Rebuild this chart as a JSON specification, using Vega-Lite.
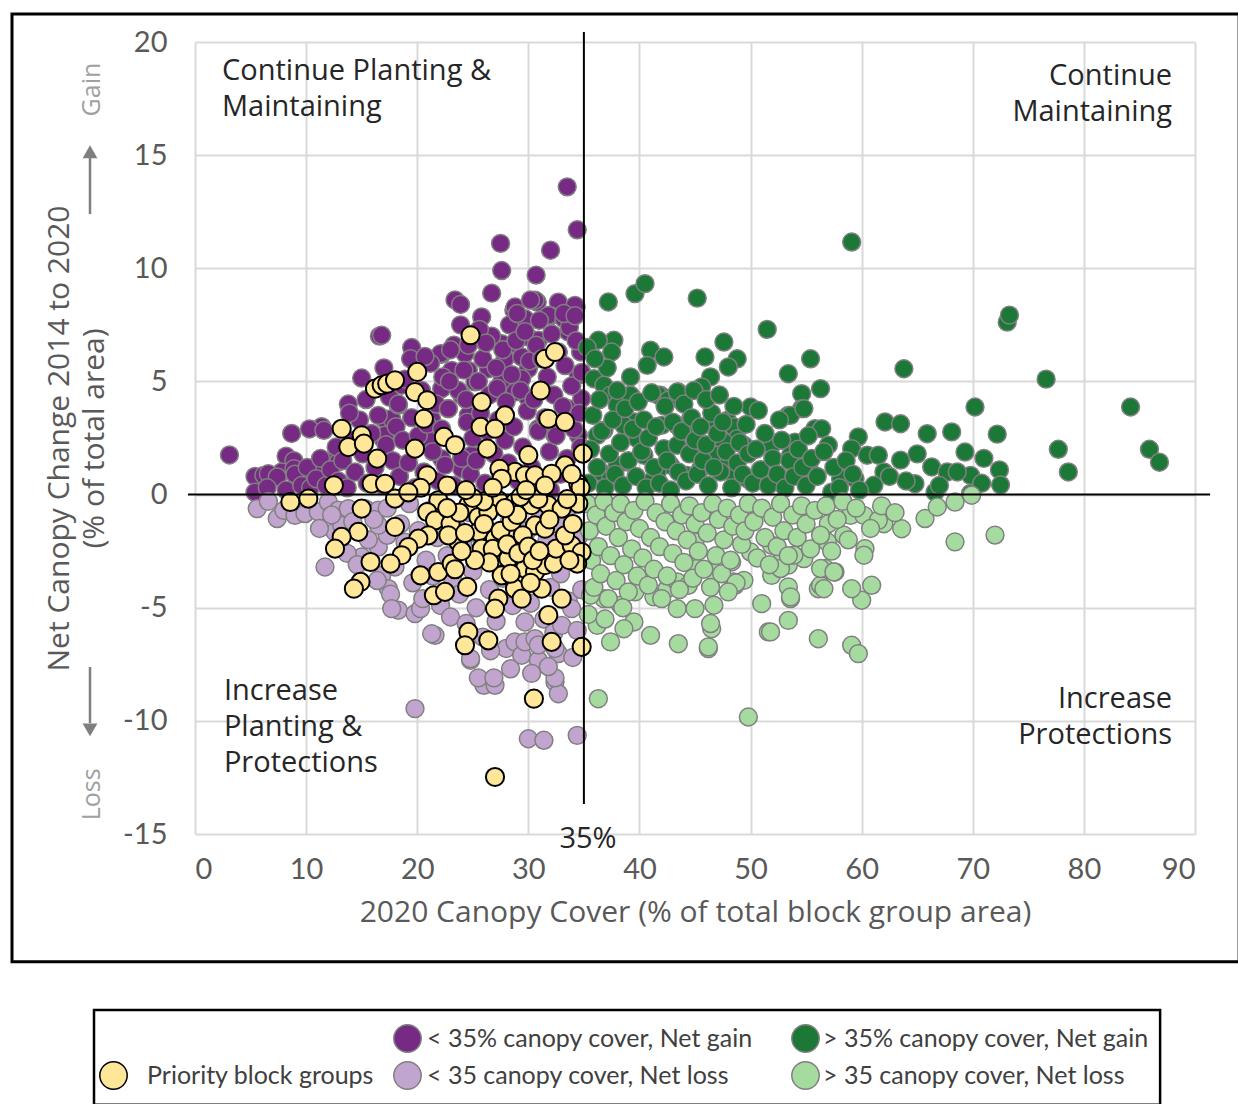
{
"$schema":"https://vega.github.io/schema/vega-lite/v6.json",
"width":1000,"height":792,
"padding":{"left":10,"top":12,"right":0,"bottom":0},
"autosize":{"type":"pad"},
"config":{"view":{"stroke":null},
"axisX":{"grid":true,"gridColor":"#d9d9d9","gridWidth":2,"ticks":false,"domain":false,"labelFont":"Lato","labelFontSize":29,"labelColor":"#595959","labelPadding":21,"titleFont":"Open Sans","titleFontSize":30,"titleColor":"#595959","titleFontWeight":"normal","titlePadding":13},
"axisY":{"grid":true,"gridColor":"#d9d9d9","gridWidth":2,"ticks":false,"domain":false,"labelFont":"Lato","labelFontSize":29,"labelColor":"#595959","labelPadding":28,"titleFont":"Open Sans","titleFontSize":30,"titleColor":"#595959","titleFontWeight":"normal","titlePadding":13,"titleLineHeight":35},
"legend":{"labelLimit":0}},
"datasets":{
"pg":[{"x":3.1,"y":1.75},{"x":33.5,"y":13.6},{"x":34.4,"y":11.7},{"x":32.0,"y":10.8},{"x":27.5,"y":11.1},{"x":27.6,"y":9.9},{"x":30.7,"y":9.7},{"x":26.7,"y":8.9},{"x":23.4,"y":8.6},{"x":23.9,"y":8.4},{"x":32.7,"y":8.5},{"x":34.3,"y":8.3},{"x":25.8,"y":7.85},{"x":28.7,"y":8.15},{"x":30.8,"y":8.5},{"x":32.0,"y":7.9},{"x":16.6,"y":7.0},{"x":19.5,"y":6.5},{"x":22.2,"y":6.2},{"x":15.0,"y":5.15},{"x":13.8,"y":4.0},{"x":11.4,"y":3.0},{"x":10.3,"y":2.9},{"x":8.7,"y":2.7},{"x":8.2,"y":1.7},{"x":5.4,"y":0.8},{"x":5.4,"y":0.1},{"x":6.2,"y":0.85},{"x":6.9,"y":0.7},{"x":7.8,"y":1.0},
{"x":11.6,"y":2.84},{"x":8.9,"y":1.5},{"x":6.6,"y":0.92},{"x":7.4,"y":0.78},{"x":8.9,"y":1.14},{"x":9.6,"y":0.85},{"x":11.1,"y":1.14},{"x":12.0,"y":1.44},{"x":12.9,"y":1.44},{"x":17.0,"y":3.35},{"x":16.9,"y":2.47},{"x":13.5,"y":2.03},
{"x":28.8,"y":8.29},{"x":30.6,"y":8.59},{"x":31.8,"y":7.92},{"x":29.7,"y":7.77},{"x":34.2,"y":8.36},{"x":33.2,"y":7.77},{"x":16.8,"y":7.04},{"x":22.1,"y":6.23},{"x":23.3,"y":6.6},{"x":24.3,"y":6.23},{"x":26.1,"y":6.74},{"x":27.6,"y":6.67},{"x":28.8,"y":6.67},{"x":30.0,"y":6.96},{"x":30.9,"y":6.82},{"x":23.1,"y":5.49},{"x":24.6,"y":5.49},{"x":25.2,"y":4.98},{"x":26.4,"y":5.56},{"x":27.9,"y":6.0},{"x":29.4,"y":6.08},{"x":30.0,"y":5.56},{"x":33.6,"y":7.19},{"x":34.7,"y":6.3},{"x":34.5,"y":5.27},{"x":22.2,"y":4.68},{"x":24.0,"y":4.39},{"x":22.8,"y":3.8},{"x":24.6,"y":3.5},{"x":27.6,"y":4.98},{"x":28.8,"y":4.53},{"x":29.4,"y":5.12},{"x":30.0,"y":4.24},{"x":17.4,"y":4.98},{"x":18.6,"y":4.83},{"x":17.7,"y":3.35},{"x":18.3,"y":3.95},{"x":17.1,"y":2.62},{"x":21.3,"y":3.35},{"x":21.0,"y":2.47},{"x":22.2,"y":1.59},{"x":24.0,"y":1.14},{"x":24.9,"y":1.74},{"x":30.9,"y":2.91},{"x":32.4,"y":2.62},{"x":34.5,"y":2.62},{"x":33.6,"y":3.8},{"x":34.8,"y":4.24},
{"x":6.5,"y":0.3},{"x":8.2,"y":0.2},{"x":9.0,"y":0.9},{"x":9.6,"y":0.4},{"x":10.1,"y":1.2},{"x":10.4,"y":0.3},{"x":10.9,"y":0.7},{"x":11.3,"y":1.6},{"x":11.8,"y":0.4},{"x":12.2,"y":1.1},{"x":12.7,"y":2.1},{"x":12.9,"y":0.6},{"x":13.3,"y":1.5},{"x":13.7,"y":0.3},{"x":14.1,"y":2.4},{"x":14.4,"y":1.0},{"x":14.8,"y":3.3},{"x":15.1,"y":1.8},{"x":15.5,"y":0.5},{"x":15.9,"y":2.7},{"x":13.9,"y":3.6},{"x":15.4,"y":4.2},{"x":16.2,"y":1.2},{"x":16.5,"y":3.5},{"x":16.9,"y":0.4},{"x":17.2,"y":2.2},{"x":17.5,"y":4.3},{"x":17.8,"y":1.5},{"x":18.1,"y":3.0},{"x":18.4,"y":0.8},{"x":18.7,"y":2.4},{"x":18.9,"y":5.1},{"x":17.0,"y":5.6},{"x":18.3,"y":4.0},{"x":19.2,"y":1.4},{"x":19.5,"y":3.4},{"x":19.8,"y":0.3},{"x":20.1,"y":2.6},{"x":20.4,"y":4.6},{"x":20.6,"y":1.0},{"x":20.9,"y":3.1},{"x":21.2,"y":5.8},{"x":21.4,"y":1.9},{"x":21.7,"y":4.0},{"x":21.9,"y":0.6},{"x":19.4,"y":6.0},{"x":22.3,"y":5.2},{"x":20.7,"y":6.1},{"x":22.2,"y":2.9},{"x":22.5,"y":1.3},{"x":22.8,"y":3.8},{"x":23.0,"y":6.4},{"x":23.3,"y":0.4},{"x":23.5,"y":2.2},{"x":23.7,"y":4.6},{"x":24.0,"y":1.6},{"x":24.2,"y":5.5},{"x":24.5,"y":3.2},{"x":24.8,"y":0.9},{"x":24.6,"y":6.6},{"x":22.9,"y":5.0},{"x":23.9,"y":7.5},{"x":24.4,"y":4.2},{"x":25.0,"y":2.5},{"x":25.3,"y":1.5},{"x":25.5,"y":5.0},{"x":25.7,"y":3.6},{"x":25.9,"y":6.0},{"x":26.1,"y":0.5},{"x":26.3,"y":2.8},{"x":26.5,"y":4.4},{"x":26.7,"y":7.0},{"x":26.9,"y":1.8},{"x":27.1,"y":5.6},{"x":27.3,"y":3.3},{"x":27.5,"y":0.9},{"x":27.7,"y":6.4},{"x":27.9,"y":2.4},{"x":25.6,"y":7.3},{"x":26.2,"y":6.7},{"x":27.2,"y":4.7},{"x":28.0,"y":4.1},{"x":28.3,"y":7.5},{"x":28.2,"y":1.4},{"x":28.5,"y":5.3},{"x":28.7,"y":3.0},{"x":28.9,"y":6.8},{"x":29.1,"y":0.6},{"x":29.3,"y":4.6},{"x":29.5,"y":2.1},{"x":29.7,"y":7.2},{"x":29.9,"y":3.7},{"x":30.1,"y":5.9},{"x":30.3,"y":1.2},{"x":30.5,"y":4.2},{"x":30.7,"y":6.6},{"x":30.9,"y":2.8},{"x":31.0,"y":7.7},{"x":29.0,"y":8.0},{"x":30.2,"y":8.6},{"x":31.3,"y":0.5},{"x":31.5,"y":3.4},{"x":31.7,"y":5.2},{"x":31.9,"y":1.9},{"x":32.1,"y":7.1},{"x":32.3,"y":4.4},{"x":32.5,"y":2.6},{"x":32.7,"y":6.3},{"x":32.9,"y":0.9},{"x":33.1,"y":3.9},{"x":33.3,"y":5.7},{"x":33.5,"y":1.6},{"x":33.7,"y":7.4},{"x":33.9,"y":4.8},{"x":34.1,"y":2.9},{"x":34.3,"y":6.8},{"x":34.5,"y":0.4},{"x":34.6,"y":3.6},{"x":34.8,"y":5.4},{"x":34.7,"y":2.1},{"x":33.2,"y":8.0},{"x":34.2,"y":7.9},{"x":31.2,"y":6.0},{"x":32.0,"y":0.2}],
"gg":[{"x":59.1,"y":11.16},{"x":37.2,"y":8.51},{"x":39.6,"y":8.88},{"x":40.5,"y":9.32},{"x":45.2,"y":8.68},{"x":51.5,"y":7.3},{"x":37.7,"y":6.82},{"x":36.3,"y":6.82},{"x":37.5,"y":6.3},{"x":41.0,"y":6.38},{"x":42.2,"y":6.08},{"x":40.7,"y":5.71},{"x":47.6,"y":6.74},{"x":45.9,"y":6.08},{"x":48.8,"y":6.0},{"x":48.0,"y":5.64},{"x":46.4,"y":5.2},{"x":45.6,"y":4.76},{"x":55.4,"y":6.0},{"x":53.4,"y":5.34},{"x":63.8,"y":5.56},{"x":56.3,"y":4.68},{"x":54.6,"y":4.46},{"x":54.6,"y":3.8},{"x":53.4,"y":3.5},{"x":39.2,"y":4.39},{"x":43.5,"y":4.53},{"x":42.6,"y":4.24},{"x":41.9,"y":4.39},{"x":50.0,"y":3.87},{"x":50.7,"y":3.72},{"x":62.1,"y":3.21},{"x":63.5,"y":3.13},{"x":65.9,"y":2.69},{"x":68.1,"y":2.77},{"x":70.2,"y":3.87},{"x":69.3,"y":1.88},{"x":59.7,"y":2.55},{"x":59.1,"y":2.03},{"x":51.9,"y":2.18},{"x":54.0,"y":2.32},{"x":55.8,"y":2.91},{"x":56.4,"y":2.91},{"x":57.0,"y":2.18},{"x":60.5,"y":1.74},{"x":61.5,"y":1.74},{"x":63.5,"y":1.52},{"x":66.3,"y":1.22},{"x":67.7,"y":1.0},{"x":69.8,"y":0.85},{"x":64.8,"y":0.48},{"x":62.0,"y":1.0},{"x":61.1,"y":0.41},{"x":59.4,"y":0.7},{"x":58.1,"y":0.7},{"x":57.3,"y":0.11},{"x":66.6,"y":0.11},{"x":73.1,"y":7.62},{"x":73.3,"y":7.93},{"x":76.6,"y":5.1},{"x":84.2,"y":3.87},{"x":77.7,"y":2.0},{"x":78.6,"y":1.0},{"x":85.9,"y":2.0},{"x":86.8,"y":1.43},{"x":72.2,"y":2.67},{"x":72.4,"y":1.09},{"x":72.5,"y":0.43},{"x":69.8,"y":0.05},{"x":68.6,"y":1.0},
{"x":35.9,"y":5.12},{"x":36.8,"y":4.83},{"x":37.4,"y":4.39},{"x":38.0,"y":3.95},{"x":39.2,"y":4.39},{"x":41.7,"y":4.39},{"x":42.6,"y":4.17},{"x":43.4,"y":4.53},{"x":53.6,"y":3.5},{"x":54.8,"y":3.8},{"x":39.6,"y":3.21},{"x":38.6,"y":3.06},{"x":36.8,"y":2.84},{"x":36.2,"y":2.62},{"x":42.0,"y":3.06},{"x":43.4,"y":3.06},{"x":44.6,"y":3.35},{"x":44.9,"y":2.99},{"x":46.7,"y":3.06},{"x":47.9,"y":3.28},{"x":48.5,"y":2.99},{"x":49.4,"y":2.18},{"x":48.8,"y":2.47},{"x":47.6,"y":2.32},{"x":53.6,"y":1.74},{"x":54.8,"y":1.44},{"x":55.4,"y":1.0},{"x":39.8,"y":2.47},{"x":40.4,"y":1.74},{"x":38.9,"y":1.44},{"x":38.0,"y":1.29},{"x":36.5,"y":1.0},{"x":37.4,"y":0.7},{"x":42.2,"y":2.03},{"x":43.4,"y":2.18},{"x":44.6,"y":1.88},{"x":45.8,"y":2.03},{"x":47.0,"y":1.74},{"x":47.9,"y":1.29},{"x":49.7,"y":0.7},{"x":48.5,"y":0.85},{"x":47.3,"y":1.0},{"x":45.5,"y":1.14},{"x":44.3,"y":0.85},{"x":42.8,"y":1.29},{"x":41.6,"y":1.0},{"x":41.0,"y":0.56},
{"x":35.4,"y":0.5},{"x":35.6,"y":2.0},{"x":35.8,"y":3.5},{"x":36.2,"y":1.2},{"x":36.4,"y":4.2},{"x":36.6,"y":2.8},{"x":36.9,"y":0.3},{"x":37.1,"y":5.6},{"x":37.3,"y":1.8},{"x":37.6,"y":3.3},{"x":37.8,"y":0.9},{"x":38.0,"y":4.6},{"x":35.3,"y":6.5},{"x":36.0,"y":6.0},{"x":38.3,"y":2.3},{"x":38.5,"y":0.4},{"x":38.7,"y":3.8},{"x":39.0,"y":1.5},{"x":39.2,"y":5.2},{"x":39.4,"y":2.9},{"x":39.7,"y":0.8},{"x":39.9,"y":4.1},{"x":40.2,"y":1.9},{"x":40.4,"y":3.3},{"x":40.6,"y":0.3},{"x":40.8,"y":2.5},{"x":41.1,"y":4.5},{"x":41.3,"y":1.2},{"x":41.5,"y":3.0},{"x":41.8,"y":0.5},{"x":42.3,"y":3.9},{"x":42.5,"y":1.5},{"x":42.8,"y":0.2},{"x":43.0,"y":3.2},{"x":43.5,"y":1.0},{"x":43.8,"y":2.8},{"x":44.0,"y":4.0},{"x":44.2,"y":0.6},{"x":44.5,"y":1.8},{"x":44.7,"y":3.4},{"x":45.0,"y":2.4},{"x":45.2,"y":0.9},{"x":45.5,"y":3.0},{"x":45.7,"y":1.5},{"x":46.0,"y":2.2},{"x":46.2,"y":0.4},{"x":46.5,"y":3.6},{"x":46.7,"y":1.2},{"x":47.0,"y":2.7},{"x":44.9,"y":4.6},{"x":46.0,"y":4.2},{"x":47.5,"y":3.2},{"x":47.8,"y":1.9},{"x":48.3,"y":0.3},{"x":48.5,"y":3.9},{"x":48.8,"y":1.4},{"x":49.0,"y":2.3},{"x":49.3,"y":0.9},{"x":49.6,"y":3.1},{"x":49.8,"y":1.8},{"x":47.2,"y":4.4},{"x":50.2,"y":0.5},{"x":50.5,"y":2.0},{"x":50.9,"y":1.1},{"x":51.3,"y":2.7},{"x":51.6,"y":0.4},{"x":52.0,"y":1.6},{"x":52.4,"y":0.9},{"x":52.8,"y":2.4},{"x":53.1,"y":0.3},{"x":53.5,"y":1.5},{"x":53.9,"y":0.8},{"x":54.3,"y":2.0},{"x":54.7,"y":1.2},{"x":55.0,"y":0.4},{"x":52.6,"y":3.3},{"x":55.5,"y":1.6},{"x":56.0,"y":0.8},{"x":56.6,"y":1.9},{"x":57.5,"y":1.2},{"x":58.0,"y":0.3},{"x":58.6,"y":1.5},{"x":59.2,"y":0.9},{"x":59.8,"y":0.2},{"x":55.2,"y":2.6},{"x":62.5,"y":0.8},{"x":64.0,"y":0.6},{"x":65.0,"y":1.8},{"x":67.0,"y":0.4},{"x":70.8,"y":0.5},{"x":71.0,"y":1.6}],
"pl":[{"x":5.6,"y":-0.62},{"x":7.4,"y":-1.06},{"x":6.6,"y":-0.3},{"x":8.0,"y":-0.7},{"x":9.0,"y":-0.92},{"x":9.9,"y":-0.84},{"x":11.1,"y":-0.77},{"x":12.0,"y":-0.33},{"x":12.9,"y":-0.69},{"x":13.8,"y":-0.62},{"x":15.3,"y":-0.62},{"x":16.5,"y":-0.69},{"x":11.7,"y":-3.2},{"x":12.6,"y":-1.65},{"x":13.2,"y":-1.36},{"x":15.0,"y":-2.76},{"x":16.5,"y":-2.32},{"x":17.3,"y":-1.8},{"x":16.5,"y":-1.36},{"x":16.8,"y":-3.57},{"x":17.4,"y":-4.16},{"x":11.2,"y":-1.5},{"x":12.3,"y":-0.9},{"x":13.7,"y":-2.6},{"x":14.2,"y":-1.2},{"x":14.6,"y":-3.1},{"x":15.6,"y":-2.0},{"x":16.1,"y":-1.1},{"x":16.4,"y":-3.8},{"x":17.3,"y":-0.6},{"x":17.6,"y":-4.4},{"x":18.0,"y":-3.2},{"x":18.3,"y":-5.11},{"x":18.5,"y":-1.3},{"x":18.9,"y":-2.1},{"x":19.3,"y":-0.4},{"x":19.6,"y":-3.9},{"x":19.8,"y":-5.26},{"x":20.3,"y":-5.04},{"x":20.1,"y":-1.6},{"x":20.5,"y":-4.6},{"x":20.8,"y":-2.9},{"x":21.1,"y":-0.7},{"x":21.6,"y":-6.22},{"x":21.4,"y":-3.6},{"x":21.8,"y":-1.9},{"x":22.1,"y":-4.9},{"x":22.4,"y":-0.5},{"x":22.7,"y":-2.7},{"x":23.0,"y":-5.41},{"x":23.2,"y":-3.8},{"x":23.5,"y":-1.4},{"x":23.8,"y":-4.4},{"x":24.1,"y":-2.2},{"x":24.4,"y":-5.7},{"x":24.8,"y":-7.32},{"x":24.7,"y":-0.8},{"x":25.0,"y":-3.4},{"x":25.3,"y":-5.0},{"x":25.6,"y":-1.8},{"x":25.9,"y":-6.3},{"x":26.0,"y":-8.43},{"x":27.0,"y":-8.43},{"x":26.2,"y":-2.9},{"x":26.5,"y":-4.2},{"x":26.8,"y":-0.4},{"x":27.1,"y":-5.6},{"x":27.4,"y":-2.3},{"x":27.7,"y":-3.7},{"x":28.0,"y":-6.8},{"x":28.3,"y":-1.2},{"x":28.6,"y":-4.9},{"x":28.8,"y":-6.51},{"x":29.0,"y":-2.7},{"x":29.4,"y":-7.1},{"x":29.3,"y":-3.9},{"x":29.7,"y":-6.51},{"x":29.7,"y":-5.63},{"x":29.9,"y":-1.6},{"x":30.0,"y":-10.79},{"x":30.2,"y":-4.8},{"x":30.6,"y":-6.37},{"x":30.5,"y":-2.4},{"x":30.9,"y":-7.32},{"x":30.8,"y":-3.3},{"x":31.1,"y":-0.8},{"x":31.4,"y":-10.86},{"x":31.4,"y":-5.5},{"x":31.7,"y":-2.0},{"x":32.0,"y":-4.1},{"x":32.4,"y":-8.28},{"x":32.3,"y":-6.1},{"x":32.7,"y":-8.8},{"x":32.7,"y":-7.03},{"x":32.6,"y":-1.3},{"x":32.9,"y":-3.5},{"x":33.0,"y":-5.78},{"x":33.3,"y":-2.6},{"x":33.6,"y":-4.7},{"x":33.9,"y":-5.04},{"x":33.8,"y":-0.5},{"x":34.1,"y":-3.0},{"x":34.4,"y":-10.64},{"x":34.4,"y":-6.0},{"x":34.6,"y":-1.8},{"x":34.8,"y":-4.2},{"x":19.8,"y":-9.46},{"x":17.7,"y":-5.04},{"x":21.3,"y":-6.15},{"x":24.8,"y":-7.25},{"x":30.9,"y":-6.65},{"x":32.4,"y":-6.8},{"x":25.5,"y":-8.1},{"x":26.9,"y":-8.1},{"x":32.4,"y":-8.1},{"x":31.8,"y":-7.6},{"x":30.3,"y":-7.9},{"x":26.6,"y":-6.9},{"x":28.4,"y":-7.7},{"x":34.0,"y":-7.2}],
"gl":[{"x":36.3,"y":-9.02},{"x":49.8,"y":-9.83},{"x":43.5,"y":-6.59},{"x":46.2,"y":-6.81},{"x":46.5,"y":-5.93},{"x":46.4,"y":-5.7},{"x":51.6,"y":-6.07},{"x":53.4,"y":-5.56},{"x":56.1,"y":-6.37},{"x":59.1,"y":-6.66},{"x":59.7,"y":-7.03},{"x":51.0,"y":-4.82},{"x":53.6,"y":-4.6},{"x":53.4,"y":-4.08},{"x":56.1,"y":-4.16},{"x":56.3,"y":-4.01},{"x":60.0,"y":-4.67},{"x":60.9,"y":-4.01},{"x":59.1,"y":-4.16},{"x":43.4,"y":-5.04},{"x":45.0,"y":-5.04},{"x":46.7,"y":-4.89},{"x":41.0,"y":-6.22},{"x":39.5,"y":-5.63},{"x":38.6,"y":-5.93},{"x":37.4,"y":-6.51},{"x":36.2,"y":-5.78},{"x":68.4,"y":-2.09},{"x":65.7,"y":-1.06},{"x":66.8,"y":-0.55},{"x":68.4,"y":-0.33},{"x":63.6,"y":-1.51},{"x":62.0,"y":-1.29},{"x":60.3,"y":-2.39},{"x":60.2,"y":-2.68},{"x":57.6,"y":-3.42},{"x":56.7,"y":-3.27},{"x":58.4,"y":-1.8},{"x":56.9,"y":-2.09},{"x":57.0,"y":-1.29},{"x":59.0,"y":-0.92},{"x":60.2,"y":-0.92},{"x":61.5,"y":-1.14},{"x":50.0,"y":-2.54},{"x":49.4,"y":-3.79},{"x":48.6,"y":-4.01},{"x":54.8,"y":-2.83},{"x":53.4,"y":-3.12},{"x":51.9,"y":-3.57},{"x":45.0,"y":-2.09},{"x":69.9,"y":-0.03},{"x":72.0,"y":-1.79},{"x":46.2,"y":-6.73},{"x":51.8,"y":-6.07},{"x":53.6,"y":-4.52},{"x":38.3,"y":-4.89},{"x":36.8,"y":-4.6},{"x":35.6,"y":-4.45},{"x":39.6,"y":-4.3},{"x":41.3,"y":-4.52},{"x":42.5,"y":-4.16},{"x":43.4,"y":-3.86},{"x":44.4,"y":-4.01},{"x":45.2,"y":-3.27},{"x":46.7,"y":-3.42},{"x":48.5,"y":-3.86},{"x":48.3,"y":-2.98},{"x":51.9,"y":-2.24},{"x":52.9,"y":-2.68},{"x":52.7,"y":-3.27},{"x":53.9,"y":-2.68},{"x":56.3,"y":-3.27},{"x":56.6,"y":-4.16},{"x":57.5,"y":-3.42},
{"x":35.3,"y":-0.4},{"x":35.5,"y":-1.6},{"x":35.7,"y":-2.9},{"x":35.9,"y":-4.1},{"x":36.1,"y":-0.9},{"x":36.3,"y":-2.3},{"x":36.5,"y":-3.5},{"x":36.8,"y":-0.3},{"x":37.0,"y":-1.4},{"x":37.2,"y":-4.6},{"x":37.4,"y":-2.7},{"x":37.7,"y":-0.8},{"x":37.9,"y":-3.8},{"x":35.4,"y":-5.3},{"x":36.9,"y":-5.5},{"x":38.1,"y":-1.9},{"x":38.3,"y":-0.4},{"x":38.6,"y":-3.1},{"x":38.8,"y":-1.2},{"x":39.0,"y":-4.3},{"x":39.3,"y":-2.4},{"x":39.5,"y":-0.7},{"x":39.8,"y":-3.6},{"x":40.0,"y":-1.5},{"x":40.3,"y":-2.8},{"x":40.5,"y":-0.3},{"x":40.8,"y":-4.0},{"x":41.0,"y":-1.9},{"x":38.5,"y":-5.0},{"x":41.3,"y":-3.3},{"x":41.5,"y":-0.8},{"x":41.8,"y":-2.3},{"x":42.0,"y":-4.6},{"x":42.3,"y":-1.2},{"x":42.5,"y":-3.6},{"x":42.8,"y":-0.4},{"x":43.0,"y":-2.6},{"x":43.3,"y":-1.6},{"x":43.6,"y":-4.2},{"x":43.8,"y":-0.9},{"x":44.0,"y":-3.0},{"x":44.3,"y":-2.0},{"x":44.5,"y":-0.5},{"x":44.8,"y":-3.7},{"x":45.0,"y":-1.3},{"x":45.3,"y":-2.5},{"x":45.6,"y":-0.8},{"x":45.8,"y":-3.3},{"x":46.1,"y":-1.7},{"x":46.4,"y":-4.1},{"x":46.6,"y":-0.4},{"x":46.9,"y":-2.7},{"x":47.1,"y":-1.1},{"x":47.4,"y":-3.5},{"x":47.6,"y":-2.0},{"x":47.9,"y":-0.6},{"x":48.2,"y":-2.9},{"x":48.4,"y":-1.4},{"x":48.7,"y":-3.9},{"x":49.0,"y":-0.9},{"x":49.2,"y":-2.2},{"x":49.5,"y":-1.6},{"x":49.8,"y":-0.4},{"x":48.0,"y":-4.3},{"x":50.3,"y":-1.2},{"x":50.6,"y":-2.8},{"x":51.0,"y":-0.6},{"x":51.3,"y":-1.9},{"x":51.7,"y":-3.1},{"x":52.0,"y":-1.0},{"x":52.4,"y":-2.3},{"x":52.7,"y":-0.4},{"x":53.0,"y":-1.6},{"x":53.4,"y":-2.7},{"x":53.8,"y":-0.9},{"x":54.2,"y":-1.9},{"x":54.6,"y":-0.5},{"x":55.0,"y":-1.3},{"x":55.4,"y":-2.4},{"x":55.8,"y":-0.7},{"x":56.3,"y":-1.8},{"x":56.8,"y":-0.5},{"x":57.3,"y":-2.5},{"x":57.8,"y":-1.1},{"x":58.3,"y":-0.3},{"x":58.8,"y":-2.0},{"x":59.5,"y":-0.6},{"x":60.8,"y":-1.5},{"x":61.8,"y":-0.5},{"x":63.0,"y":-0.8}],
"pr":[{"x":16.2,"y":4.68},{"x":16.8,"y":4.83},{"x":17.3,"y":4.9},{"x":18.0,"y":5.05},{"x":20.0,"y":5.42},{"x":19.8,"y":4.53},{"x":20.9,"y":4.17},{"x":20.6,"y":3.35},{"x":24.8,"y":7.04},{"x":31.5,"y":6.0},{"x":32.4,"y":6.3},{"x":31.1,"y":4.6},{"x":25.8,"y":4.09},{"x":27.9,"y":3.5},{"x":25.7,"y":2.99},{"x":27.0,"y":2.91},{"x":31.8,"y":3.35},{"x":33.3,"y":3.21},{"x":22.4,"y":2.55},{"x":23.4,"y":2.18},{"x":19.8,"y":2.03},{"x":20.9,"y":0.85},{"x":26.3,"y":2.03},{"x":30.0,"y":1.74},{"x":33.3,"y":1.29},{"x":34.9,"y":1.81},{"x":13.2,"y":2.91},{"x":15.0,"y":2.62},{"x":13.8,"y":2.1},{"x":15.2,"y":2.25},{"x":16.4,"y":1.59},{"x":12.5,"y":0.41},{"x":15.9,"y":0.48},{"x":17.1,"y":0.48},{"x":28.8,"y":1.0},{"x":29.7,"y":0.85},{"x":30.6,"y":0.85},{"x":32.1,"y":0.92},{"x":27.4,"y":1.14},{"x":27.6,"y":0.7},{"x":34.5,"y":0.48},{"x":34.7,"y":0.3},
{"x":8.58,"y":-0.33},{"x":10.2,"y":-0.18},{"x":15.0,"y":-0.62},{"x":18.0,"y":-0.18},{"x":21.9,"y":-0.25},{"x":20.9,"y":-0.77},{"x":21.6,"y":-1.14},{"x":23.0,"y":-1.29},{"x":24.6,"y":-0.47},{"x":25.5,"y":-0.99},{"x":27.3,"y":-0.25},{"x":26.4,"y":-0.77},{"x":28.8,"y":-0.33},{"x":30.3,"y":-0.47},{"x":31.8,"y":-0.47},{"x":33.0,"y":-0.62},{"x":30.6,"y":-1.36},{"x":31.5,"y":-1.51},{"x":28.8,"y":-1.8},{"x":27.0,"y":-1.95},{"x":25.5,"y":-1.65},{"x":23.7,"y":-2.09},{"x":22.8,"y":-1.8},{"x":21.0,"y":-1.8},{"x":20.1,"y":-1.95},{"x":19.2,"y":-2.32},{"x":18.6,"y":-2.68},{"x":18.0,"y":-1.43},{"x":14.7,"y":-1.65},{"x":13.2,"y":-1.87},{"x":12.6,"y":-2.39},{"x":15.8,"y":-2.98},{"x":17.6,"y":-3.05},{"x":14.9,"y":-3.86},{"x":14.3,"y":-4.16},{"x":20.3,"y":-3.57},{"x":21.5,"y":-4.45},{"x":22.5,"y":-4.3},{"x":24.5,"y":-4.08},{"x":21.9,"y":-3.42},{"x":23.1,"y":-3.05},{"x":25.8,"y":-2.39},{"x":27.0,"y":-2.83},{"x":28.2,"y":-2.83},{"x":27.6,"y":-3.57},{"x":28.8,"y":-3.86},{"x":29.7,"y":-3.27},{"x":30.6,"y":-3.42},{"x":31.5,"y":-3.12},{"x":32.3,"y":-3.05},{"x":32.5,"y":-2.39},{"x":33.9,"y":-2.24},{"x":34.8,"y":-2.54},{"x":33.3,"y":-1.8},{"x":34.4,"y":-3.05},{"x":28.8,"y":-4.16},{"x":31.2,"y":-4.16},{"x":33.0,"y":-4.6},{"x":27.3,"y":-4.6},{"x":27.0,"y":-5.04},{"x":29.4,"y":-4.6},{"x":31.8,"y":-5.33},{"x":24.6,"y":-6.07},{"x":24.3,"y":-6.66},{"x":26.4,"y":-6.44},{"x":32.1,"y":-6.51},{"x":34.8,"y":-6.73},{"x":30.5,"y":-9.02},{"x":27.0,"y":-12.48},
{"x":26.0,"y":-1.3},{"x":26.8,"y":-2.4},{"x":27.5,"y":-1.6},{"x":28.1,"y":-2.2},{"x":28.5,"y":-1.2},{"x":29.1,"y":-2.6},{"x":29.5,"y":-1.8},{"x":30.0,"y":-2.3},{"x":30.4,"y":-2.9},{"x":26.5,"y":-3.0},{"x":25.2,"y":-2.9},{"x":24.3,"y":-1.7},{"x":24.0,"y":-2.5},{"x":23.4,"y":-3.3},{"x":29.0,"y":-0.9},{"x":31.0,"y":-2.5},{"x":31.9,"y":-1.1},{"x":33.7,"y":-2.9},{"x":34.0,"y":-1.3},{"x":34.5,"y":-0.4},{"x":33.5,"y":-0.2},{"x":27.9,"y":-0.6},{"x":29.3,"y":-0.1},{"x":26.0,"y":-0.3},{"x":25.0,"y":-0.15},{"x":23.8,"y":-0.8},{"x":22.7,"y":-0.6},{"x":28.4,"y":-3.5},{"x":30.2,"y":-3.9},{"x":30.9,"y":-0.2},{"x":29.8,"y":0.2},{"x":31.5,"y":0.4},{"x":33.9,"y":0.9},{"x":26.8,"y":0.3},{"x":24.4,"y":0.2},{"x":22.7,"y":0.4},{"x":20.3,"y":0.3},{"x":19.2,"y":0.1}]
},
"layer":[
{"data":{"name":"pg"},"mark":{"type":"point","filled":true,"size":320,"stroke":"#808080","strokeWidth":1.5,"opacity":1},
 "encoding":{
 "x":{"field":"x","type":"quantitative","scale":{"domain":[0,90],"nice":false,"zero":false},"axis":{"title":"2020 Canopy Cover (% of total block group area)","values":[0,10,20,30,40,50,60,70,80,90]}},
 "y":{"field":"y","type":"quantitative","scale":{"domain":[-15,20],"nice":false,"zero":false},"axis":{"title":["Net Canopy Change 2014 to 2020","(% of total area)"],"values":[-15,-10,-5,0,5,10,15,20],"labelExpr":"'' + datum.value"}},
 "fill":{"datum":"< 35% canopy cover, Net gain","scale":{"range":["#762a83"]},"legend":{"orient":"none","legendX":198,"legendY":982,"title":null,"padding":0,"symbolType":"circle","symbolSize":750,"labelFont":"Lato","labelFontSize":25,"labelColor":"#404040","labelOffset":5,"labelLimit":0,"encode":{"symbols":{"update":{"stroke":{"value":"black"},"strokeWidth":{"value":2}}}}}}}},
{"data":{"name":"gg"},"mark":{"type":"point","filled":true,"size":320,"stroke":"#808080","strokeWidth":1.5,"opacity":1},
 "encoding":{"x":{"field":"x","type":"quantitative"},"y":{"field":"y","type":"quantitative"},
 "fill":{"datum":"> 35% canopy cover, Net gain","scale":{"range":["#1b7837"]},"legend":{"orient":"none","legendX":596,"legendY":982,"title":null,"padding":0,"symbolType":"circle","symbolSize":750,"labelFont":"Lato","labelFontSize":25,"labelColor":"#404040","labelOffset":3,"labelLimit":0,"encode":{"symbols":{"update":{"stroke":{"value":"black"},"strokeWidth":{"value":2}}}}}}}},
{"data":{"name":"pl"},"mark":{"type":"point","filled":true,"size":320,"stroke":"#808080","strokeWidth":1.5,"opacity":1},
 "encoding":{"x":{"field":"x","type":"quantitative"},"y":{"field":"y","type":"quantitative"},
 "fill":{"datum":"< 35 canopy cover, Net loss","scale":{"range":["#c2a5cf"]},"legend":{"orient":"none","legendX":198,"legendY":1019,"title":null,"padding":0,"symbolType":"circle","symbolSize":750,"labelFont":"Lato","labelFontSize":25,"labelColor":"#404040","labelOffset":5,"labelLimit":0,"encode":{"symbols":{"update":{"stroke":{"value":"black"},"strokeWidth":{"value":2}}}}}}}},
{"data":{"name":"gl"},"mark":{"type":"point","filled":true,"size":320,"stroke":"#808080","strokeWidth":1.5,"opacity":1},
 "encoding":{"x":{"field":"x","type":"quantitative"},"y":{"field":"y","type":"quantitative"},
 "fill":{"datum":"> 35 canopy cover, Net loss","scale":{"range":["#a6dba0"]},"legend":{"orient":"none","legendX":596,"legendY":1019,"title":null,"padding":0,"symbolType":"circle","symbolSize":750,"labelFont":"Lato","labelFontSize":25,"labelColor":"#404040","labelOffset":3,"labelLimit":0,"encode":{"symbols":{"update":{"stroke":{"value":"black"},"strokeWidth":{"value":2}}}}}}}},
{"data":{"name":"pr"},"mark":{"type":"point","filled":true,"size":330,"stroke":"black","strokeWidth":2,"opacity":1},
 "encoding":{"x":{"field":"x","type":"quantitative"},"y":{"field":"y","type":"quantitative"},
 "fill":{"datum":"Priority block groups","scale":{"range":["#ffe699"]},"legend":{"orient":"none","legendX":-96,"legendY":1019,"title":null,"padding":0,"symbolType":"circle","symbolSize":750,"labelFont":"Lato","labelFontSize":25,"labelColor":"#404040","labelOffset":19,"labelLimit":0,"encode":{"symbols":{"update":{"stroke":{"value":"black"},"strokeWidth":{"value":2}}}}}}}},
{"data":{"values":[{"a":1}]},"mark":{"type":"rule","color":"black","strokeWidth":2},"encoding":{"x":{"datum":35,"type":"quantitative"},"y":{"datum":20.44,"type":"quantitative"},"y2":{"datum":-13.67}}},
{"data":{"values":[{"a":1}]},"mark":{"type":"rule","color":"black","strokeWidth":2},"encoding":{"y":{"datum":0,"type":"quantitative"},"x":{"datum":-0.63,"type":"quantitative"},"x2":{"datum":91.36}}},
{"data":{"values":[{"a":1}]},"mark":{"type":"text","align":"left","baseline":"alphabetic","font":"Open Sans","fontSize":29,"lineHeight":36,"fill":"#262626","text":["Continue Planting &","Maintaining"]},"encoding":{"x":{"datum":2.43,"type":"quantitative"},"y":{"datum":18.3,"type":"quantitative"}}},
{"data":{"values":[{"a":1}]},"mark":{"type":"text","align":"right","baseline":"alphabetic","font":"Open Sans","fontSize":29,"lineHeight":36,"fill":"#262626","text":["Continue","Maintaining"]},"encoding":{"x":{"datum":87.94,"type":"quantitative"},"y":{"datum":18.12,"type":"quantitative"}}},
{"data":{"values":[{"a":1}]},"mark":{"type":"text","align":"left","baseline":"alphabetic","font":"Open Sans","fontSize":29,"lineHeight":36,"fill":"#262626","text":["Increase","Planting &","Protections"]},"encoding":{"x":{"datum":2.6,"type":"quantitative"},"y":{"datum":-9.06,"type":"quantitative"}}},
{"data":{"values":[{"a":1}]},"mark":{"type":"text","align":"right","baseline":"alphabetic","font":"Open Sans","fontSize":29,"lineHeight":36,"fill":"#262626","text":["Increase","Protections"]},"encoding":{"x":{"datum":87.94,"type":"quantitative"},"y":{"datum":-9.45,"type":"quantitative"}}},
{"data":{"values":[{"a":1}]},"mark":{"type":"text","align":"center","baseline":"alphabetic","font":"Open Sans","fontSize":29,"fill":"#262626","text":"35%"},"encoding":{"x":{"datum":35.37,"type":"quantitative"},"y":{"datum":-15.62,"type":"quantitative"}}},
{"data":{"values":[{"a":1}]},"mark":{"type":"text","align":"center","baseline":"middle","angle":270,"font":"Open Sans","fontSize":25,"fill":"#a0a0a0","text":"Gain"},"encoding":{"x":{"datum":-9.27,"type":"quantitative"},"y":{"datum":17.9,"type":"quantitative"}}},
{"data":{"values":[{"a":1}]},"mark":{"type":"text","align":"center","baseline":"middle","angle":270,"font":"Open Sans","fontSize":25,"fill":"#a0a0a0","text":"Loss"},"encoding":{"x":{"datum":-9.27,"type":"quantitative"},"y":{"datum":-13.25,"type":"quantitative"}}},
{"data":{"values":[{"a":1}]},"mark":{"type":"rule","color":"#7f7f7f","strokeWidth":2.5},"encoding":{"x":{"datum":-9.45,"type":"quantitative"},"y":{"datum":12.4,"type":"quantitative"},"y2":{"datum":14.9}}},
{"data":{"values":[{"a":1}]},"mark":{"type":"point","shape":"triangle-up","filled":true,"size":220,"color":"#7f7f7f","opacity":1},"encoding":{"x":{"datum":-9.45,"type":"quantitative"},"y":{"datum":15.15,"type":"quantitative"}}},
{"data":{"values":[{"a":1}]},"mark":{"type":"rule","color":"#7f7f7f","strokeWidth":2.5},"encoding":{"x":{"datum":-9.45,"type":"quantitative"},"y":{"datum":-7.62,"type":"quantitative"},"y2":{"datum":-10.1}}},
{"data":{"values":[{"a":1}]},"mark":{"type":"point","shape":"triangle-down","filled":true,"size":220,"color":"#7f7f7f","opacity":1},"encoding":{"x":{"datum":-9.45,"type":"quantitative"},"y":{"datum":-10.4,"type":"quantitative"}}},
{"data":{"values":[{"a":1}]},"mark":{"type":"rect","filled":false,"stroke":"black","strokeWidth":3},"encoding":{"x":{"datum":-16.47,"type":"quantitative"},"x2":{"datum":93.97},"y":{"datum":21.24,"type":"quantitative"},"y2":{"datum":-20.65}}},
{"data":{"values":[{"a":1}]},"mark":{"type":"rect","filled":false,"stroke":"black","strokeWidth":2.5},"encoding":{"x":{"datum":-9.09,"type":"quantitative"},"x2":{"datum":86.86},"y":{"datum":-22.78,"type":"quantitative"},"y2":{"datum":-26.97}}}
],
"resolve":{"scale":{"fill":"independent"},"legend":{"fill":"independent"}}
}
